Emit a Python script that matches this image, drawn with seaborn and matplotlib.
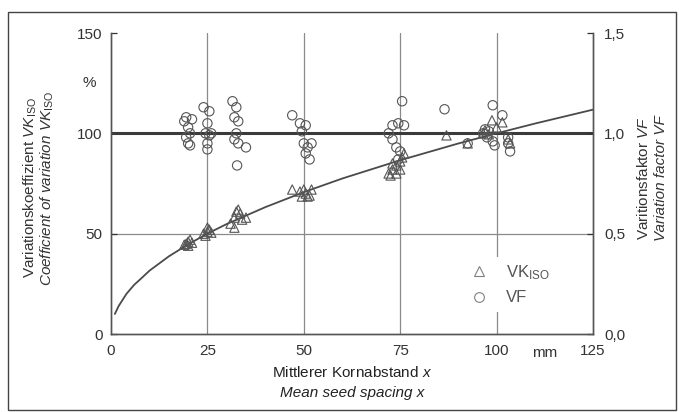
import matplotlib
matplotlib.use("Agg")
import matplotlib.pyplot as plt
import seaborn as sns
import pandas as pd
from matplotlib.lines import Line2D
from matplotlib.patches import Rectangle

sns.set_style("white")
plt.rcParams['font.family'] = ['Liberation Sans', 'DejaVu Sans']
plt.rcParams['mathtext.fontset'] = 'custom'
plt.rcParams['mathtext.rm'] = 'Liberation Sans'
plt.rcParams['mathtext.it'] = 'Liberation Sans:italic'

# VK_ISO values (triangles), left axis in %
vk_x = [19.5, 20, 20.5, 20, 21, 19,
        24, 25, 25.5, 24.5, 26, 25,
        31, 32, 32.5, 33, 33.5, 34, 32, 35,
        47, 49, 50, 50.5, 51, 52, 51.5, 49.5,
        72, 73, 74, 75, 75.5, 76, 74, 75, 73, 72.5,
        87, 92.5, 96.5, 97, 98, 98.8, 101.5, 103, 103.5, 100]
vk_y = [45, 46, 47, 44, 45.5, 44.5,
        50, 51, 52, 49, 50.5, 53,
        55, 58, 61, 62, 60, 57, 53, 58,
        72, 71, 72, 70, 68.5, 72, 69, 68.5,
        80, 82, 84, 86, 88, 90, 80, 82, 85, 79,
        99, 95, 100, 101.5, 99.5, 106.5, 105.5, 97, 95, 103]

# VF values (circles), right axis
vf_x = [19, 19.5, 20, 20.5, 19.5, 20, 20.5, 21,
        24, 25.5, 25, 24.5, 25.5, 25, 25, 26,
        31.5, 32.5, 32, 33, 32.5, 32, 33, 35, 32.7,
        47, 49, 50.5, 49.5, 50, 51, 52, 50.5, 51.5,
        75.5, 74.5, 73, 72, 73, 74, 75, 74.5, 76,
        86.5, 92.5, 96.5, 97, 97.5, 98, 99, 99, 99.5, 101.5, 103, 103, 103.5]
vf_y = [1.06, 1.08, 1.03, 1.00, 0.98, 0.95, 0.94, 1.07,
        1.13, 1.11, 1.05, 1.00, 0.99, 0.95, 0.92, 1.00,
        1.16, 1.13, 1.08, 1.06, 1.00, 0.97, 0.95, 0.93, 0.84,
        1.09, 1.05, 1.04, 1.01, 0.95, 0.93, 0.95, 0.90, 0.87,
        1.16, 1.05, 1.04, 1.00, 0.97, 0.93, 0.91, 0.87, 1.04,
        1.12, 0.95, 1.00, 1.02, 0.98, 1.01, 1.14, 0.96, 0.94, 1.09, 0.98, 0.95, 0.91]

# fitted curve
fit_x = [1, 2, 4, 6, 8, 10, 15, 20, 25, 30, 40, 50, 60, 75, 90, 100, 110, 125]
fit_y = [10, 14, 20, 24.5, 28, 31.6, 38.7, 44.7, 50, 54.8, 63.2, 70.7, 77.5, 86.6, 94.9, 100, 104.9, 111.8]

vk = pd.DataFrame({'x': vk_x, 'y': vk_y})
vf = pd.DataFrame({'x': vf_x, 'y': vf_y})
fit = pd.DataFrame({'x': fit_x, 'y': fit_y})

fs = 11
txt_c = '#333333'

fig = plt.figure(figsize=(6.79, 4.12), dpi=100)
ax = fig.add_axes([0.1635, 0.1893, 0.7098, 0.7306])
ax2 = ax.twinx()

grid_c = '#8a8a8a'
for gx in [25, 50, 75, 100]:
    ax.axvline(gx, color=grid_c, lw=0.9, zorder=0)
ax.axhline(50, color=grid_c, lw=0.9, zorder=0)
ax.axhline(100, color='#3a3a3a', lw=2.2, zorder=1)

sns.lineplot(data=fit, x='x', y='y', ax=ax, color='#4a4a4a', lw=1.3, zorder=2)
sns.scatterplot(data=vk, x='x', y='y', ax=ax, marker='^', s=45,
                facecolor='none', edgecolor='#555555', linewidth=0.8, zorder=3)
sns.scatterplot(data=vf, x='x', y='y', ax=ax2, marker='o', s=45,
                facecolor='none', edgecolor='#555555', linewidth=0.8, zorder=3)

ax.set_xlim(0, 125)
ax.set_ylim(0, 150)
ax2.set_ylim(0, 1.5)
ax.set_xticks([0, 25, 50, 75, 100, 125])
ax.set_yticks([0, 50, 100, 150])
ax2.set_yticks([0, 0.5, 1.0, 1.5])
ax2.set_yticklabels(['0,0', '0,5', '1,0', '1,5'])
ax.set_xlabel('')
ax.set_ylabel('')
ax2.set_ylabel('')

for a in (ax, ax2):
    a.spines['top'].set_visible(False)
    for s in ['left', 'right', 'bottom']:
        a.spines[s].set_color('#555555')
        a.spines[s].set_linewidth(1.0)
    a.tick_params(labelsize=fs, colors=txt_c, length=4, direction='in', width=0.9)
ax.tick_params(axis='x', length=0, pad=7)
ax.tick_params(axis='y', pad=6)
ax2.tick_params(axis='y', pad=8)

ax.text(-4, 125, '%', ha='right', va='center', fontsize=fs, color=txt_c)
ax.text(112.5, -6, 'mm', ha='center', va='top', fontsize=fs, color=txt_c)

# axis titles
fig.text(0.044, 0.545, r'Variationskoeffizient $\mathit{VK}_\mathrm{ISO}$', rotation=90,
         ha='center', va='center', fontsize=fs, color=txt_c)
fig.text(0.070, 0.543, r'$\mathit{Coefficient\ of\ variation\ VK}_\mathrm{ISO}$', rotation=90,
         ha='center', va='center', fontsize=fs, color=txt_c)
fig.text(0.947, 0.568, r'Varitionsfaktor $\mathit{VF}$', rotation=90,
         ha='center', va='center', fontsize=fs, color=txt_c)
fig.text(0.973, 0.568, 'Variation factor VF', rotation=90, style='italic',
         ha='center', va='center', fontsize=fs, color=txt_c)
fig.text(0.518, 0.095, r'Mittlerer Kornabstand $\mathit{x}$',
         ha='center', va='center', fontsize=fs, color='#222222')
fig.text(0.518, 0.045, 'Mean seed spacing x', style='italic',
         ha='center', va='center', fontsize=fs, color='#222222')

handles = [Line2D([], [], marker='^', ls='none', mfc='none', mec='#808080', ms=7, mew=0.8),
           Line2D([], [], marker='o', ls='none', mfc='none', mec='#808080', ms=7, mew=0.8)]
leg = ax2.legend(handles, [r'VK$_\mathrm{ISO}$', 'VF'], loc='center',
                 bbox_to_anchor=(0.82, 0.165), frameon=True, fontsize=12,
                 handletextpad=0.6, labelspacing=0.5, borderpad=0.4)
leg.get_frame().set_edgecolor('none')
leg.get_frame().set_facecolor('white')
leg.get_frame().set_alpha(1)
for t in leg.get_texts():
    t.set_color('#555555')

fig.patches.append(Rectangle((8 / 679, 2 / 412), 668 / 679, 398 / 412, transform=fig.transFigure,
                             fill=False, edgecolor='#444444', lw=1.0))

fig.savefig('out.png', dpi=100)
